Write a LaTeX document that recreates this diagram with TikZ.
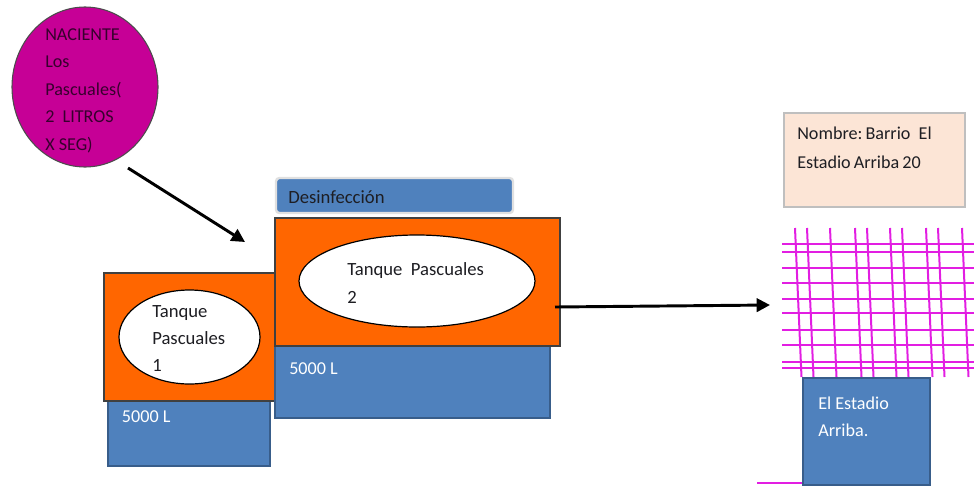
\documentclass[tikz,border=0pt]{standalone}
\usepackage{fontspec}
\setmainfont{Carlito}
\usetikzlibrary{shapes.geometric,arrows.meta,fit}
\definecolor{tankblue}{RGB}{79,129,189}
\definecolor{tankblueborder}{RGB}{56,93,138}
\definecolor{tankorange}{RGB}{255,102,0}
\definecolor{springmag}{RGB}{198,0,150}
\definecolor{springtext}{RGB}{55,0,45}
\definecolor{gridmag}{RGB}{226,30,226}
\definecolor{peach}{RGB}{252,229,214}
\definecolor{darktext}{RGB}{30,30,35}
\begin{document}
\begin{tikzpicture}[x=0.75pt,y=-0.75pt,
  box/.style={rectangle, inner sep=0pt, outer sep=0pt},
  tanktop/.style={box, fill=tankorange, draw=black!75, line width=1.1pt},
  tankbase/.style={box, fill=tankblue, draw=tankblueborder, line width=1.6pt},
  oval/.style={ellipse, fill=white, draw=black, line width=0.9pt, inner sep=0pt},
  lbl/.style={anchor=base west, inner sep=0pt, align=left},
  bigfont/.style={font=\fontsize{14pt}{20.3pt}\selectfont},
  midfont/.style={font=\fontsize{13.6pt}{20.6pt}\selectfont},
  namefont/.style={font=\fontsize{13.6pt}{21.75pt}\selectfont},
  flow/.style={-{Triangle[length=10pt,width=10pt]}, line width=2.2pt, black},
  gridline/.style={draw=gridmag, line width=1.5pt}]
\useasboundingbox (0,0) rectangle (974,486);

% spring (multi-line labels are anchored at the baseline of their last line)
\node[ellipse, fill=springmag, draw=black!70, line width=0.8pt, inner sep=0pt,
      minimum width=109.5pt, minimum height=120pt] (naciente) at (85,87) {};
\node[lbl, midfont, text=springtext] (nacientetxt) at (45,150)
  {NACIENTE\\Los\\Pascuales(\\2\ \ LITROS\\X SEG)};

% tank 1
\node[tankbase, fit={(108,400)(270,466)}] (base1) {};
\node[tanktop, fit={(104,273)(275,401)}] (tank1) {};
\node[oval, minimum width=105.75pt, minimum height=70.5pt] (oval1) at (189.5,337) {};
\node[lbl, bigfont, text=darktext] (oval1txt) at (152,371.8) {Tanque\\Pascuales\\1};
\node[lbl, midfont, text=white] (base1txt) at (121.7,422) {5000 L};

% tank 2
\node[tankbase, fit={(275,346)(550,418)}] (base2) {};
\node[tanktop, fit={(275,218)(560,346)}] (tank2) {};
\node[oval, minimum width=177pt, minimum height=69pt] (oval2) at (417,281) {};
\node[lbl, bigfont, text=darktext] (oval2txt) at (347,303) {Tanque\ \ Pascuales\\2};
\node[lbl, midfont, text=white] (base2txt) at (289,374) {5000 L};

% disinfection
\node[box, fill=tankblue, draw=black!12, line width=1.8pt, rounded corners=2.5pt,
      fit={(276,178)(513,213)}] (desinf) {};
\node[lbl, bigfont, text=darktext] (desinftxt) at (288,203) {Desinfección};

% neighbourhood label
\node[box, fill=peach, draw=black!25, line width=0.8pt, fit={(784,113)(965,207)}] (nombre) {};
\node[lbl, namefont, text=darktext] (nombretxt) at (797,168.3)
  {Nombre:\,Barrio\ \ El\\Estadio\,Arriba\,20};

% street grid
\foreach \gx in {795,807,830,855,867,890,902,926,938,962}
  \draw[gridline] (\gx,228) -- (\gx+6.5,377);
\foreach \gy in {244,252,268,283,299,313,330,345,362,368}
  \draw[gridline] (782,\gy) -- (974,\gy);
\draw[gridline] (757,483) -- (803,483);

% neighbourhood box
\node[tankbase, fit={(803,378)(930,485)}] (estadio) {};
\node[lbl, midfont, text=white] (estadiotxt) at (818,436.8) {El Estadio\\Arriba.};

% connectors
\coordinate (a1s) at (128,168);
\coordinate (a1e) at (245,242);
\coordinate (a2s) at (555,307);
\coordinate (a2e) at (770,305);
\draw[flow] (a1s) -- (a1e);
\draw[flow] (a2s) -- (a2e);
\end{tikzpicture}
\end{document}
